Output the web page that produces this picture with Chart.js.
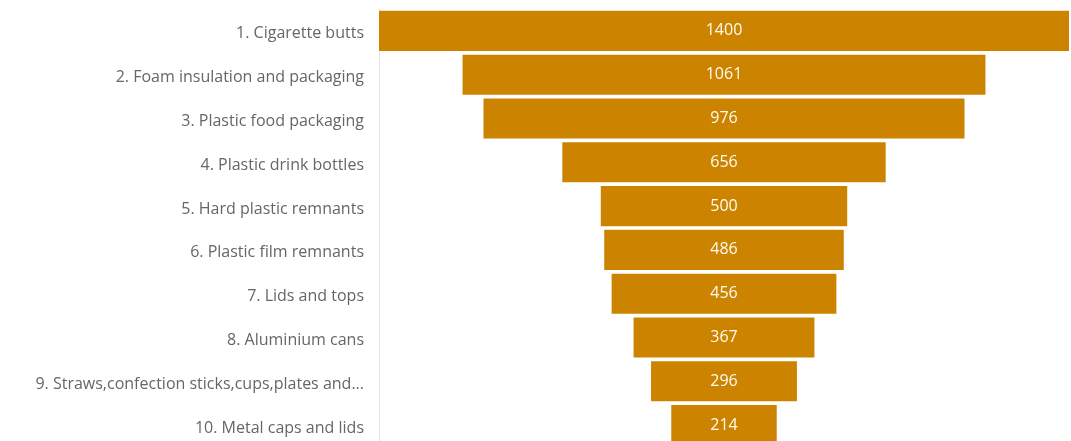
<!DOCTYPE html>
<html>
<head>
<meta charset="utf-8">
<title>Top 10 litter items</title>
<script src="https://cdn.jsdelivr.net/npm/chart.js@4.4.1/dist/chart.umd.min.js"></script>
<style>
    html, body { margin: 0; padding: 0; background: #fff; overflow: hidden; }
    #wrap { width: 1071px; height: 447px; }
</style>
</head>
<body>
<div id="wrap"><canvas id="funnelChart" width="1071" height="447"></canvas></div>
<script>
// Litter items, ranked by count
const items = [
    '1. Cigarette butts',
    '2. Foam insulation and packaging',
    '3. Plastic food packaging',
    '4. Plastic drink bottles',
    '5. Hard plastic remnants',
    '6. Plastic film remnants',
    '7. Lids and tops',
    '8. Aluminium cans',
    '9. Straws,confection sticks,cups,plates and...',
    '10. Metal caps and lids'
];
const counts = [1400, 1061, 976, 656, 500, 486, 456, 367, 296, 214];

const maxCount = Math.max(...counts);
const mid = maxCount / 2;

// Each bar floats around the middle so the stack reads as a funnel
const funnelBars = counts.map(v => [mid - v / 2, mid + v / 2]);

// Draw the count inside each bar
const valueLabels = {
    id: 'valueLabels',
    afterDatasetsDraw(chart) {
        const ctx = chart.ctx;
        const meta = chart.getDatasetMeta(0);
        ctx.save();
        ctx.font = '16px "Open Sans", sans-serif';
        ctx.fillStyle = '#fffbf0';
        ctx.textAlign = 'center';
        ctx.textBaseline = 'middle';
        meta.data.forEach((bar, i) => {
            const x = (bar.x + bar.base) / 2;
            ctx.fillText(String(counts[i]), x, bar.y);
        });
        ctx.restore();
    }
};

document.addEventListener('DOMContentLoaded', function () {
    const ctx = document.getElementById('funnelChart').getContext('2d');

    new Chart(ctx, {
        type: 'bar',
        data: {
            labels: items,
            datasets: [{
                label: 'Count',
                data: funnelBars,
                backgroundColor: '#cc8400',
                borderWidth: 0,
                borderSkipped: false,
                barPercentage: 0.915,
                categoryPercentage: 1
            }]
        },
        options: {
            indexAxis: 'y',
            responsive: false,
            animation: false,
            layout: {
                padding: { top: 9, right: 2, bottom: 0, left: 0 }
            },
            scales: {
                x: {
                    display: false,
                    min: 0,
                    max: maxCount
                },
                y: {
                    grid: { display: false },
                    border: { display: true, color: '#e2e2e2', width: 1 },
                    ticks: {
                        color: '#666666',
                        padding: 7,
                        labelOffset: 3,
                        font: { family: '"Open Sans", sans-serif', size: 16 }
                    },
                    afterFit: function (scale) {
                        // fixed label column, no extra room above/below the bars
                        scale.width = 379;
                        scale.paddingTop = 0;
                        scale.paddingBottom = 0;
                    }
                }
            },
            plugins: {
                legend: { display: false },
                tooltip: { enabled: false }
            }
        },
        plugins: [valueLabels]
    });
});
</script>
</body>
</html>
